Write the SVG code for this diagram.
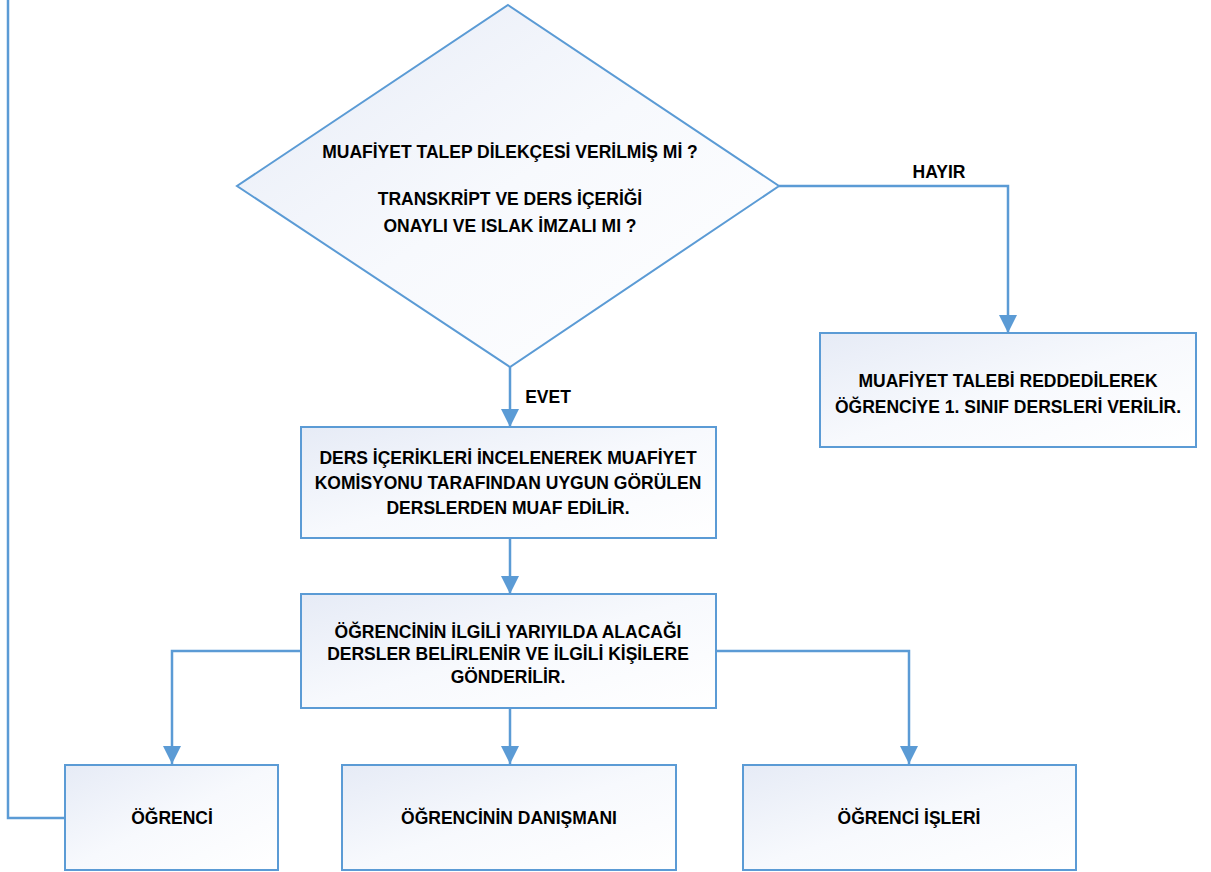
<svg xmlns="http://www.w3.org/2000/svg" width="1211" height="872" viewBox="0 0 1211 872">
<defs>
<linearGradient id="g" x1="0" y1="0" x2="1" y2="1">
<stop offset="0" stop-color="#e6ebf6"/>
<stop offset="0.5" stop-color="#f7f9fd"/>
<stop offset="1" stop-color="#ffffff"/>
</linearGradient>
<marker id="arr" markerUnits="userSpaceOnUse" markerWidth="18" markerHeight="18" viewBox="0 0 18 18" refX="18" refY="9" orient="auto">
<path d="M0,0 L18,9 L0,18 Z" fill="#5b9bd5"/>
</marker>
<style>
.n{fill:url(#g);stroke:#5b9bd5;stroke-width:2}
.c{fill:none;stroke:#5b9bd5;stroke-width:2.5}
.t{font-family:"Liberation Sans",Arial,sans-serif;font-weight:bold;font-size:17.5px;fill:#000;text-anchor:middle}
</style>
</defs>
<rect width="1211" height="872" fill="#fff"/>
<g id="connectors">
<polyline class="c" points="779,186 1008,186 1008,333" marker-end="url(#arr)"/>
<polyline class="c" points="510,367 510,427" marker-end="url(#arr)"/>
<polyline class="c" points="510,538 510,594" marker-end="url(#arr)"/>
<polyline class="c" points="301,651 172,651 172,764" marker-end="url(#arr)"/>
<polyline class="c" points="510,708 510,764" marker-end="url(#arr)"/>
<polyline class="c" points="716,651 909,651 909,764" marker-end="url(#arr)"/>
<polyline class="c" points="65,818 8,818 8,0"/>
<text class="t" x="939" y="178">HAYIR</text>
<text class="t" x="548" y="403">EVET</text>
</g>
<g id="decision">
<polygon class="n" points="508,5 779,186 510,367 237,186"/>
<text class="t" x="510" y="158">MUAFİYET TALEP DİLEKÇESİ VERİLMİŞ Mİ ?</text>
<text class="t" x="510" y="205">TRANSKRİPT VE DERS İÇERİĞİ</text>
<text class="t" x="510" y="232">ONAYLI VE ISLAK İMZALI MI ?</text>
</g>
<g id="muaf">
<rect class="n" x="301" y="427" width="415" height="111"/>
<text class="t" x="508" y="464">DERS İÇERİKLERİ İNCELENEREK MUAFİYET</text>
<text class="t" x="508" y="489">KOMİSYONU TARAFINDAN UYGUN GÖRÜLEN</text>
<text class="t" x="508" y="514">DERSLERDEN MUAF EDİLİR.</text>
</g>
<g id="red">
<rect class="n" x="820" y="333" width="376" height="114"/>
<text class="t" x="1008" y="387">MUAFİYET TALEBİ REDDEDİLEREK</text>
<text class="t" x="1008" y="413">ÖĞRENCİYE 1. SINIF DERSLERİ VERİLİR.</text>
</g>
<g id="belirle">
<rect class="n" x="301" y="594" width="415" height="114"/>
<text class="t" x="508" y="638">ÖĞRENCİNİN İLGİLİ YARIYILDA ALACAĞI</text>
<text class="t" x="508" y="660">DERSLER BELİRLENİR VE İLGİLİ KİŞİLERE</text>
<text class="t" x="508" y="683">GÖNDERİLİR.</text>
</g>
<g id="ogrenci">
<rect class="n" x="65" y="765" width="213" height="105"/>
<text class="t" x="172" y="824">ÖĞRENCİ</text>
</g>
<g id="danisman">
<rect class="n" x="342" y="765" width="334" height="105"/>
<text class="t" x="509" y="824">ÖĞRENCİNİN DANIŞMANI</text>
</g>
<g id="ogrenciisleri">
<rect class="n" x="743" y="765" width="333" height="105"/>
<text class="t" x="909" y="824">ÖĞRENCİ İŞLERİ</text>
</g>
</svg>
